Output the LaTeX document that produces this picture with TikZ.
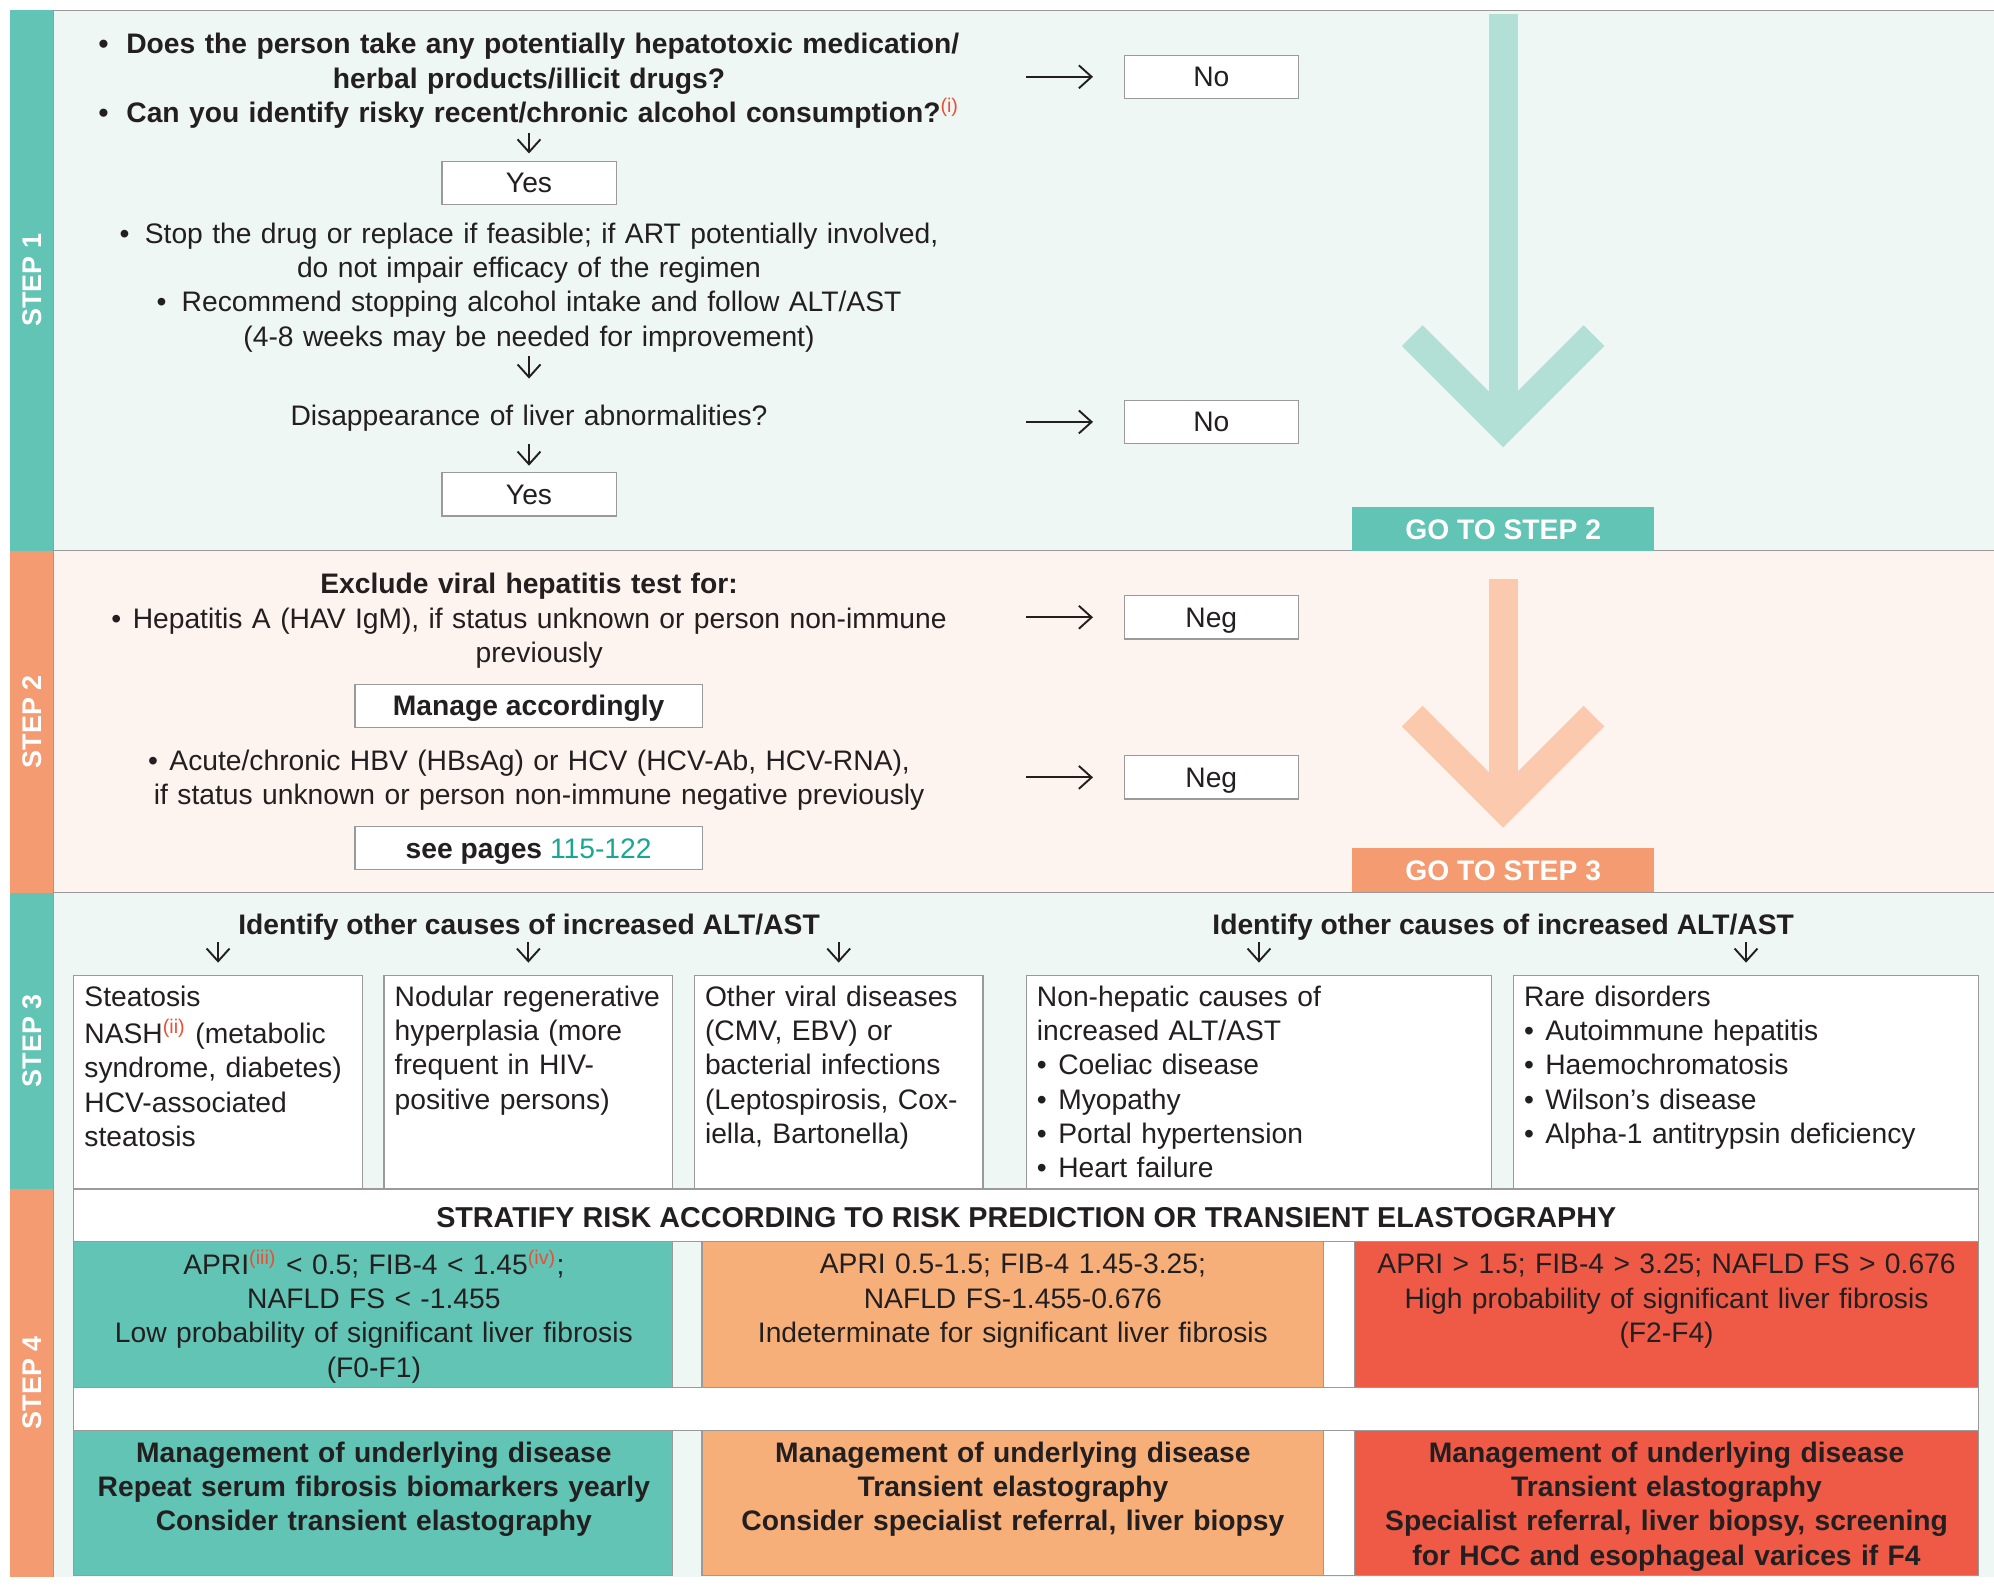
\documentclass[tikz,border=0pt]{standalone}
\usepackage{fontspec}
\setmainfont{Liberation Sans}
\usetikzlibrary{arrows.meta, calc, positioning}

\definecolor{ink}{HTML}{231F20}
\definecolor{frame}{HTML}{9A9A9A}
\definecolor{stepteal}{HTML}{62C4B4}
\definecolor{stepsalmon}{HTML}{F59B72}
\definecolor{mintbg}{HTML}{EFF7F4}
\definecolor{peachbg}{HTML}{FDF4EF}
\definecolor{arrowteal}{HTML}{B2DFD6}
\definecolor{arrowpeach}{HTML}{FBCAAE}
\definecolor{cellorange}{HTML}{F7AF79}
\definecolor{cellred}{HTML}{EF5A47}
\definecolor{refred}{HTML}{E94F37}
\definecolor{linkteal}{HTML}{19A88F}

\newcommand{\bodysize}{\fontsize{11.1}{13.5}\selectfont}
\newcommand{\refmark}[1]{\textsuperscript{\mdseries\color{refred}(#1)}}
\newcommand{\bul}[1][4.5pt]{\textbullet\hspace{#1}}

\begin{document}
\begin{tikzpicture}[x=0.5pt, y=-0.5pt,
    rule/.style={draw=frame, line width=0.5pt},
    block/.style={font=\bodysize, text=ink, inner sep=0pt, text width=#1, align=center, anchor=north},
    block/.default=360pt,
    listtext/.style={font=\bodysize, text=ink, inner sep=0pt, text width=#1, align=left, anchor=north west},
    heading/.style={font=\bodysize\bfseries, text=ink, inner sep=0pt, anchor=base},
    answer/.style={draw=frame, line width=0.5pt, fill=white, font=\bodysize, text=ink, inner sep=0pt,
        minimum width=68.5pt, minimum height=17pt, text height=7.9pt, text depth=0pt},
    gobox/.style={fill=#1, text=white, font=\bodysize\bfseries, inner sep=0pt,
        minimum width=119pt, minimum height=17.2pt, text height=7.9pt, text depth=0pt},
    causebox/.style={draw=frame, line width=0.5pt, fill=white, minimum width=#1, minimum height=84pt, inner sep=0pt},
    cell/.style={draw=frame, line width=0.5pt, fill=#1, minimum height=57.5pt, inner sep=0pt},
    steplabel/.style={rotate=90, text=white, font=\fontsize{10.6}{12}\selectfont\bfseries, inner sep=0pt},
    arr/.style={draw=ink, line width=0.75pt, -{Straight Barb[length=5pt,width=9pt]}},
    bigarrow/.style={line width=11.5pt, line join=miter}]

\useasboundingbox (0,0) rectangle (1568,1252);
\fill[white] (0,0) rectangle (1568,1252);

\fill[mintbg] (42,8) rectangle (1568,433);
\fill[peachbg] (42,433) rectangle (1568,702);
\fill[mintbg] (42,702) rectangle (1568,1240);
\fill[stepteal] (8,8) rectangle (42,433);
\fill[stepsalmon] (8,433) rectangle (42,702);
\fill[stepteal] (8,702) rectangle (42,935);
\fill[stepsalmon] (8,935) rectangle (42,1240);
\draw[rule] (42,8) -- (1568,8);
\draw[rule] (42,433) -- (1568,433);
\draw[rule] (42,702) -- (1568,702);
\draw[rule] (42,8) -- (42,1240);

\node[steplabel] (lab1) at (25,220.5) {STEP 1};
\node[steplabel] (lab2) at (25,567.5) {STEP 2};
\node[steplabel] (lab3) at (25,818.5) {STEP 3};
\node[steplabel] (lab4) at (25,1087.5) {STEP 4};

\node[gobox=stepteal] (go2) at (1182,416) {GO TO STEP 2};
\node[gobox=stepsalmon] (go3) at (1182,684.2) {GO TO STEP 3};

\coordinate (top1) at (1182,10.7);
\coordinate (tip1) at ($(go2.north)+(0,-63)$);
\draw[bigarrow, draw=arrowteal] (top1) -- (tip1);
\draw[bigarrow, draw=arrowteal] ($(tip1)+(-71.5,-71.5)$) -- (tip1) -- ($(tip1)+(71.5,-71.5)$);

\coordinate (top2) at (1182,455);
\coordinate (tip2) at ($(go3.north)+(0,-32)$);
\draw[bigarrow, draw=arrowpeach] (top2) -- (tip2);
\draw[bigarrow, draw=arrowpeach] ($(tip2)+(-71.5,-71.5)$) -- (tip2) -- ($(tip2)+(71.5,-71.5)$);

\node[block, font=\bodysize\bfseries] (ask) at (416,23) {\strut\bul[7pt]Does the person take any potentially hepatotoxic medication/\\herbal products/illicit drugs?\\\bul[7pt]Can you identify risky recent/chronic alcohol consumption?\refmark{i}};
\node[answer] (yes1) at (416,143.8) {Yes};
\node[block] (stop) at (416,172) {\strut\bul[6pt]Stop the drug or replace if feasible; if ART potentially involved,\\do not impair efficacy of the regimen\\\bul[6pt]Recommend stopping alcohol intake and follow ALT/AST\\(4-8 weeks may be needed for improvement)};
\node[block] (gone) at (416,315.3) {\strut Disappearance of liver abnormalities?};
\node[answer] (yes2) at (416,388.7) {Yes};
\node[answer] (no1) at (952.5,60.4) {No};
\node[answer] (no2) at (952.5,331.8) {No};

\coordinate (d1) at (416,104.5);
\coordinate (d2) at (416,280);
\coordinate (d3) at (416,349);
\coordinate (r1) at (807,60.4);
\coordinate (r2) at (807,331.8);
\draw[arr, shorten >=2.8pt] (d1) -- (yes1);
\draw[arr, shorten >=8.8pt] (d2) -- (gone);
\draw[arr, shorten >=2.5pt] (d3) -- (yes2);
\draw[arr, shorten >=12pt] (r1) -- (no1);
\draw[arr, shorten >=12pt] (r2) -- (no2);

\node[block] (excl) at (416,447.7) {\strut\textbf{Exclude viral hepatitis test for:}\\\bul Hepatitis A (HAV IgM), if status unknown or person non-immune\\\hspace*{8pt}previously};
\node[answer, minimum width=136.5pt, font=\bodysize\bfseries] (manage) at (415.7,555) {Manage accordingly};
\node[block] (hbv) at (416,586.6) {\strut\bul Acute/chronic HBV (HBsAg) or HCV (HCV-Ab, HCV-RNA),\\\hspace*{8pt}if status unknown or person non-immune negative previously};
\node[answer, minimum width=136.5pt] (pages) at (415.7,667) {\textbf{see pages} {\color{linkteal}115-122}};
\node[answer] (neg1) at (952.5,485.4) {Neg};
\node[answer] (neg2) at (952.5,611.3) {Neg};

\coordinate (r3) at (807,485.4);
\coordinate (r4) at (807,611.3);
\draw[arr, shorten >=12pt] (r3) -- (neg1);
\draw[arr, shorten >=12pt] (r4) -- (neg2);

\node[heading] (seek1) at (416,735) {Identify other causes of increased ALT/AST};
\node[heading] (seek2) at (1182,735) {Identify other causes of increased ALT/AST};

\node[causebox=113.5pt] (liver) at (171.5,851) {};
\node[causebox=113.5pt] (nrh) at (415.5,851) {};
\node[causebox=113.5pt] (infect) at (659.5,851) {};
\node[causebox=183pt] (nonhep) at (990,851) {};
\node[causebox=183pt] (rare) at (1373,851) {};

\node[listtext=150pt] (liverT) at ($(liver.north west)+(8.5,5.5)$) {\strut Steatosis\\NASH\refmark{ii} (metabolic\\syndrome, diabetes)\\HCV-associated\\steatosis};
\node[listtext=150pt] (nrhT) at ($(nrh.north west)+(8.5,5.5)$) {\strut Nodular regenerative\\hyperplasia (more\\frequent in HIV-\\positive persons)};
\node[listtext=150pt] (infectT) at ($(infect.north west)+(8.5,5.5)$) {\strut Other viral diseases\\(CMV, EBV) or\\bacterial infections\\(Leptospirosis, Cox-\\iella, Bartonella)};
\node[listtext=200pt] (nonhepT) at ($(nonhep.north west)+(8.5,5.5)$) {\strut Non-hepatic causes of\\increased ALT/AST\\\bul Coeliac disease\\\bul Myopathy\\\bul Portal hypertension\\\bul Heart failure};
\node[listtext=200pt] (rareT) at ($(rare.north west)+(8.5,5.5)$) {\strut Rare disorders\\\bul Autoimmune hepatitis\\\bul Haemochromatosis\\\bul Wilson’s disease\\\bul Alpha-1 antitrypsin deficiency};

\coordinate (s3a) at (171.5,741);
\coordinate (s3b) at (415.5,741);
\coordinate (s3c) at (659.5,741);
\coordinate (s3d) at (990,741);
\coordinate (s3e) at (1373,741);
\draw[arr, shorten >=4.75pt] (s3a) -- (liver);
\draw[arr, shorten >=4.75pt] (s3b) -- (nrh);
\draw[arr, shorten >=4.75pt] (s3c) -- (infect);
\draw[arr, shorten >=4.75pt] (s3d) -- (nonhep);
\draw[arr, shorten >=4.75pt] (s3e) -- (rare);

\node[draw=frame, line width=0.5pt, fill=white, minimum width=749pt, minimum height=152pt, inner sep=0pt] (grid) at (807,1087) {};
\node[heading, font=\fontsize{11.3}{13.5}\selectfont\bfseries] (stratify) at (807,965) {STRATIFY RISK ACCORDING TO RISK PREDICTION OR TRANSIENT ELASTOGRAPHY};
\fill[mintbg] (529,976) rectangle (552,1091);
\fill[mintbg] (529,1125) rectangle (552,1239);
\draw[rule] (58,976) -- (1556,976);
\draw[rule] (58,1091) -- (1556,1091);
\draw[rule] (58,1125) -- (1556,1125);

\node[cell=stepteal, minimum width=235.5pt] (low) at (293.5,1033.5) {};
\node[cell=cellorange, minimum width=244.5pt] (mid) at (796.5,1033.5) {};
\node[cell=cellred, minimum width=245.5pt] (high) at (1310.5,1033.5) {};
\node[cell=stepteal, minimum width=235.5pt, minimum height=57pt] (lowplan) at (293.5,1182) {};
\node[cell=cellorange, minimum width=244.5pt, minimum height=57pt] (midplan) at (796.5,1182) {};
\node[cell=cellred, minimum width=245.5pt, minimum height=57pt] (highplan) at (1310.5,1182) {};

\node[block=245pt] (lowT) at (294,982.4) {\strut APRI\refmark{iii} < 0.5; FIB-4 < 1.45\refmark{iv};\\NAFLD FS < -1.455\\Low probability of significant liver fibrosis\\(F0-F1)};
\node[block=245pt] (midT) at (796.5,982.4) {\strut APRI 0.5-1.5; FIB-4 1.45-3.25;\\NAFLD FS-1.455-0.676\\Indeterminate for significant liver fibrosis};
\node[block=245pt] (highT) at (1310.5,982.4) {\strut APRI > 1.5; FIB-4 > 3.25; NAFLD FS > 0.676\\High probability of significant liver fibrosis\\(F2-F4)};

\node[block=245pt, font=\bodysize\bfseries] (lowplanT) at (294,1130.5) {\strut Management of underlying disease\\Repeat serum fibrosis biomarkers yearly\\Consider transient elastography};
\node[block=245pt, font=\bodysize\bfseries] (midplanT) at (796.5,1130.5) {\strut Management of underlying disease\\Transient elastography\\Consider specialist referral, liver biopsy};
\node[block=245pt, font=\bodysize\bfseries] (highplanT) at (1310.5,1130.5) {\strut Management of underlying disease\\Transient elastography\\Specialist referral, liver biopsy, screening\\for HCC and esophageal varices if F4};
\end{tikzpicture}
\end{document}
